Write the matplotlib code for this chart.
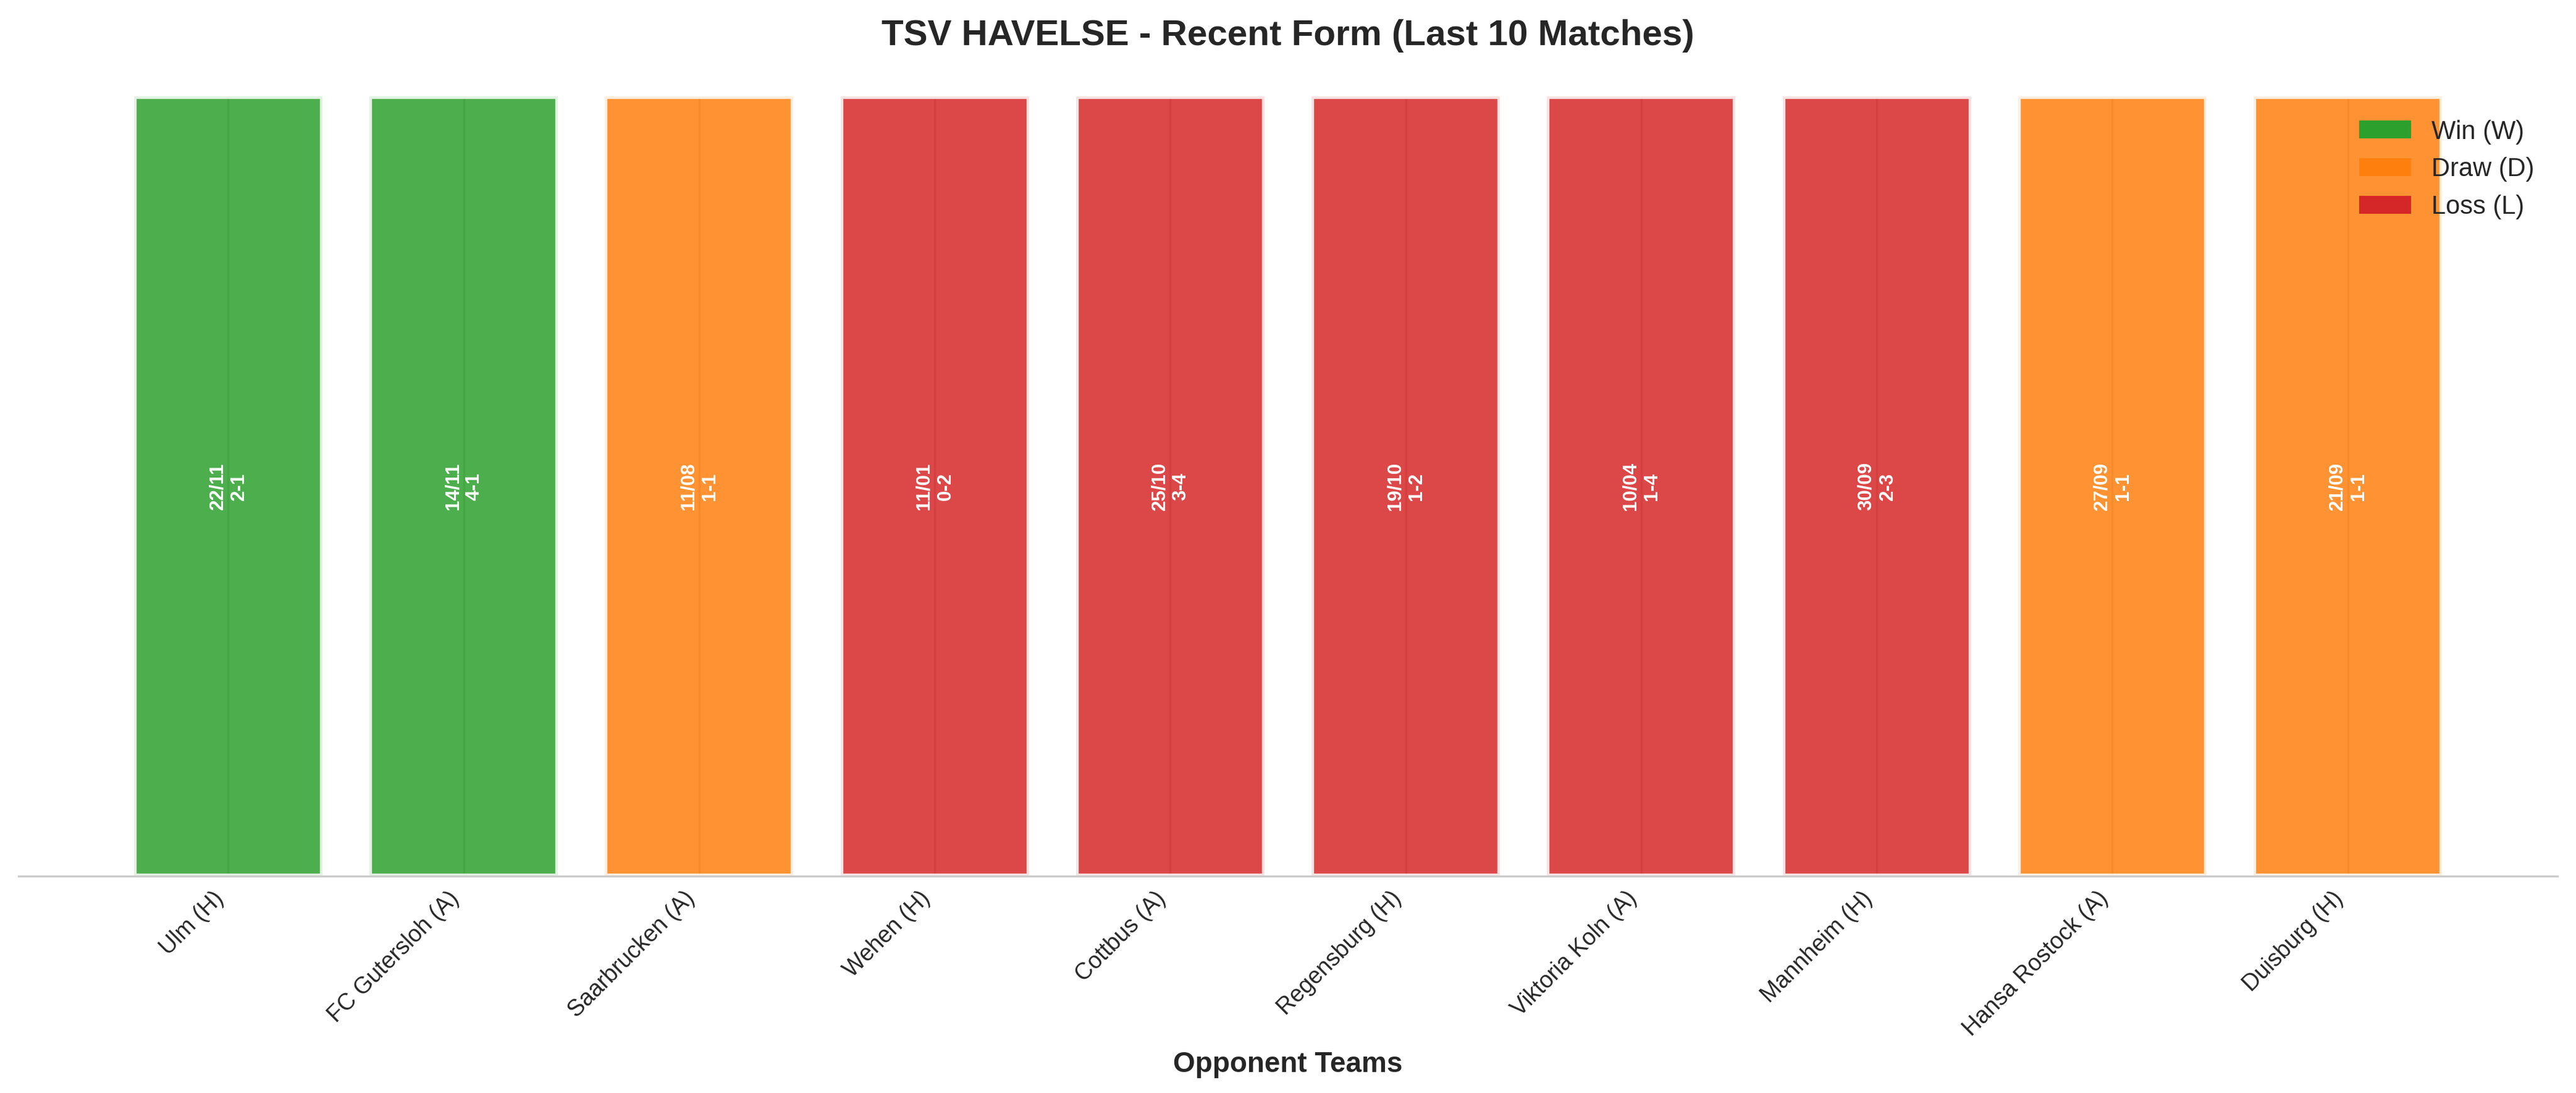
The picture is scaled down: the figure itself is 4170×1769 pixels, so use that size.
import matplotlib
matplotlib.use("Agg")
import matplotlib.pyplot as plt
from matplotlib.patches import Patch
import seaborn as sns

sns.set_style("whitegrid")
plt.rcParams['font.family'] = ['Liberation Sans', 'DejaVu Sans']

# last 10 matches, most recent first
opponents = ["Ulm (H)", "FC Gutersloh (A)", "Saarbrucken (A)", "Wehen (H)", "Cottbus (A)",
             "Regensburg (H)", "Viktoria Koln (A)", "Mannheim (H)", "Hansa Rostock (A)", "Duisburg (H)"]
dates = ["22/11", "14/11", "11/08", "11/01", "25/10", "19/10", "10/04", "30/09", "27/09", "21/09"]
scores = ["2-1", "4-1", "1-1", "0-2", "3-4", "1-2", "1-4", "2-3", "1-1", "1-1"]
results = ["W", "W", "D", "L", "L", "L", "L", "L", "D", "D"]

colors = {"W": "#2ca02c", "D": "#ff7f0e", "L": "#d62728"}
bar_colors = [colors[r] for r in results]

fig = plt.figure(figsize=(13.9, 5.8967), dpi=300)
ax = fig.add_axes([30 / 4170, 351 / 1769, 4110 / 4170, (1418 - 156) / 1769])

x = list(range(len(opponents)))
ax.bar(x, [1] * len(x), color=bar_colors, alpha=0.85, edgecolor="white", linewidth=2)
ax.set_ylim(0, 1)

# date + score written inside each bar
for i in x:
    ax.text(i, 0.5, f"{dates[i]}\n{scores[i]}", ha="center", va="center", rotation=90,
            color="white", fontsize=7.5, fontweight="bold")

ax.set_xticks(x)
ax.set_xticklabels(opponents, rotation=45, ha="right", fontsize=9)
ax.tick_params(axis="x", pad=0.8)
ax.set_yticks([])
ax.set_xlabel("Opponent Teams", fontsize=11, fontweight="bold")
ax.set_title("TSV HAVELSE - Recent Form (Last 10 Matches)", fontsize=14, fontweight="bold", pad=20)
sns.despine(ax=ax, left=True)

handles = [Patch(facecolor=colors["W"], linewidth=0, label="Win (W)"),
           Patch(facecolor=colors["D"], linewidth=0, label="Draw (D)"),
           Patch(facecolor=colors["L"], linewidth=0, label="Loss (L)")]
ax.legend(handles=handles, loc="upper right", fontsize=10, frameon=False)

fig.savefig("out.png", dpi=300)
